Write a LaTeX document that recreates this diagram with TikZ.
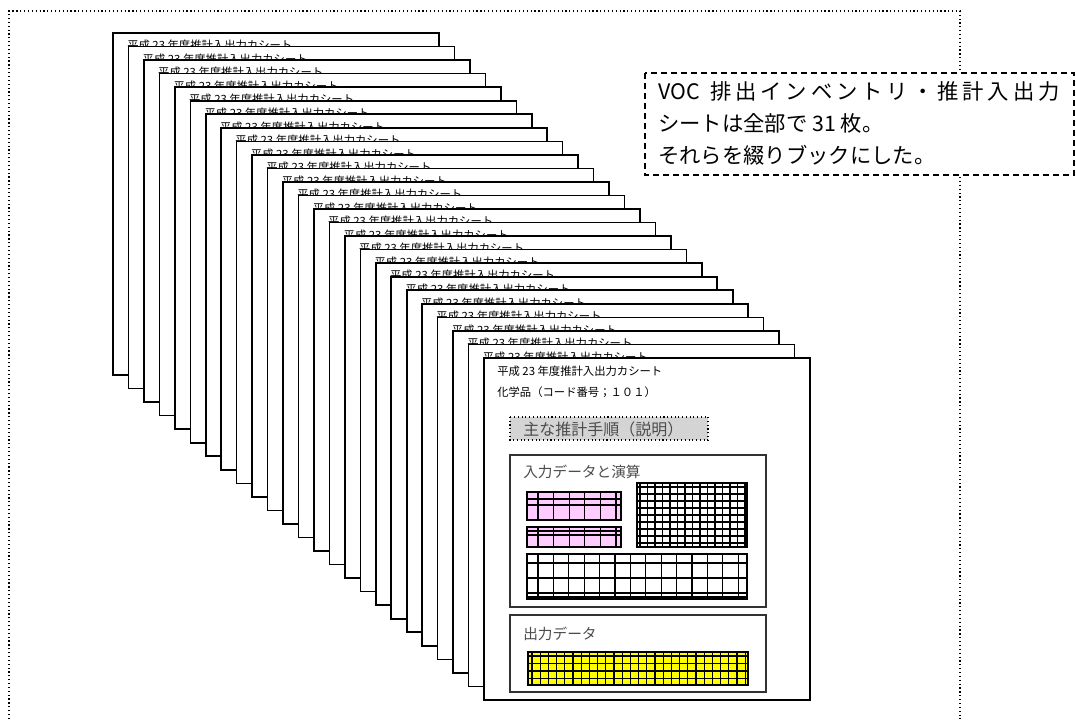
\documentclass[tikz,border=0pt]{standalone}
\usepackage{fontspec}
\setmainfont{Noto Sans CJK JP}
\definecolor{pinkcell}{HTML}{FFCCFF}
\definecolor{yellowcell}{HTML}{FFFF00}
\tikzset{
  sheet/.style={draw=black, fill=white, line width=1.2pt},
  sheettitle/.style={anchor=west, inner sep=0pt, font=\fontsize{8.5}{10}\selectfont},
  panel/.style={draw=black!80, fill=white, line width=0.9pt},
  panellabel/.style={anchor=west, inner sep=0pt, text=black!70, font=\fontsize{11}{13}\selectfont},
  gridline/.style={draw=black, line width=0.9pt},
}
\begin{document}
\begin{tikzpicture}[x=0.75pt,y=-0.75pt]
\useasboundingbox (0,0) rectangle (1076,719);

% outer frame
\draw[dotted, line width=0.9pt] (9,719) -- (9,11) -- (960,11) -- (960,719);

% note
\draw[fill=white, line width=1.1pt, dash pattern=on 4.5pt off 3pt] (645,73) rectangle (1074,175);
\node[anchor=west, inner sep=0pt, align=left, font=\fontsize{16}{24}\selectfont] (note) at (658,123)
  {\makebox[301pt][s]{VOC\hspace{5pt}\hfill 排\hfill 出\hfill イ\hfill ン\hfill ベ\hfill ン\hfill ト\hfill リ\hfill ・\hfill 推\hfill 計\hfill 入\hfill 出\hfill 力}\\
   シートは全部で 31 枚。\\それらを綴りブックにした。};

% stack of sheets
\foreach \i in {0,...,23}{
  \pgfmathsetmacro\sx{113+15.46*\i}
  \pgfmathsetmacro\sy{33+13.54*\i}
  \draw[sheet] (\sx,\sy) rectangle ++(326,342);
  \node[sheettitle] (title\i) at (\sx+14,\sy+12.5) {平成 23 年度推計入出力カシート};
}

% front sheet
\draw[sheet] (484,358) rectangle (810,700);
\node[sheettitle] (title24) at (497,371) {平成 23 年度推計入出力カシート};
\node[sheettitle] (chem) at (497,392) {化学品（コード番号；１０１）};

\draw[dotted, line width=0.8pt, fill=black!17] (510,417) rectangle (708,440);
\node[panellabel, font=\fontsize{12}{14}\selectfont] (steps) at (523,429) {主な推計手順（説明）};

% input data
\draw[panel] (510,455) rectangle (766,607);
\node[panellabel] (inlabel) at (523,472) {入力データと演算};

\draw[gridline, fill=pinkcell] (527,492) rectangle (621,520);
\foreach \v in {538,553.6,...,617} \draw[gridline] (\v,492) -- (\v,520);
\foreach \h in {499,505} \draw[gridline] (527,\h) -- (621,\h);

\draw[gridline, fill=pinkcell] (527,527) rectangle (621,547);
\foreach \v in {538,553.6,...,617} \draw[gridline] (\v,527) -- (\v,547);
\foreach \h in {531,535} \draw[gridline] (527,\h) -- (621,\h);

\draw[gridline, fill=white] (637,483) rectangle (747,547);
\foreach \v in {640,647.5,...,745} \draw[gridline] (\v,483) -- (\v,547);
\foreach \h in {487,494,...,544} \draw[gridline] (637,\h) -- (747,\h);

\draw[gridline, fill=white] (527,554) rectangle (747,599);
\foreach \v in {538,553.4,...,745} \draw[gridline] (\v,554) -- (\v,599);
\foreach \h in {563,578,593,597} \draw[gridline] (527,\h) -- (747,\h);

% output data
\draw[panel] (510,615) rectangle (766,692);
\node[panellabel] (outlabel) at (523,634) {出力データ};

\draw[gridline, fill=yellowcell] (528,652) rectangle (748,685);
\foreach \v in {532,540.2,...,746} \draw[gridline] (\v,652) -- (\v,685);
\foreach \h in {656,663.5,...,683} \draw[gridline] (528,\h) -- (748,\h);
\end{tikzpicture}
\end{document}
